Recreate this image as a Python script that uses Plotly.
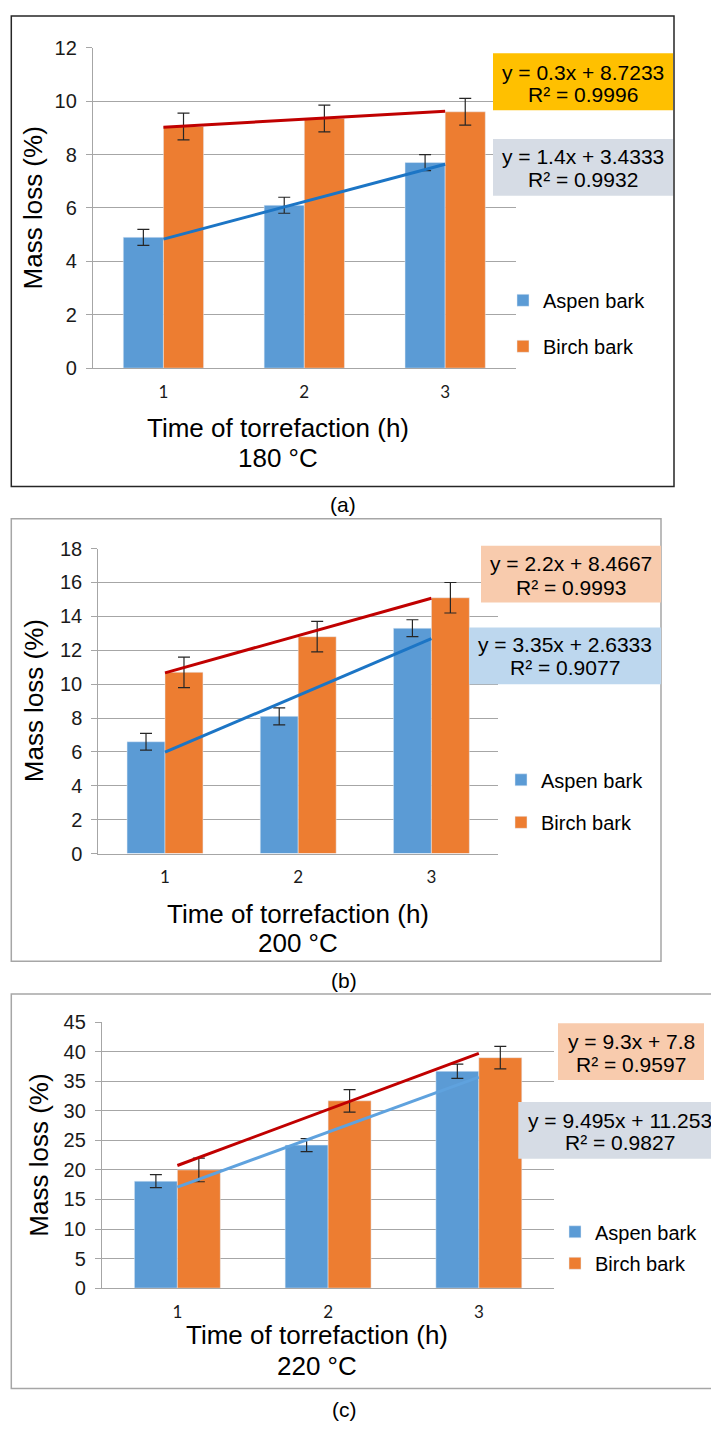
import plotly.graph_objects as go

W, H = 711, 1433

# ---------------- data ----------------
categories = [1, 2, 3]
tick_text = ["1", "2", "3"]
series_names = ["Aspen bark", "Birch bark"]

aspen_180 = [4.9, 6.1, 7.7]
aspen_180_err = [0.3, 0.3, 0.3]
birch_180 = [9.05, 9.35, 9.6]
birch_180_err = [0.5, 0.5, 0.5]

aspen_200 = [6.6, 8.1, 13.3]
aspen_200_err = [0.5, 0.5, 0.5]
birch_200 = [10.7, 12.8, 15.1]
birch_200_err = [0.9, 0.9, 0.9]

aspen_220 = [18.1, 24.2, 36.7]
aspen_220_err = [1.1, 1.1, 1.2]
birch_220 = [20.0, 31.7, 39.0]
birch_220_err = [2.0, 1.9, 1.9]

# trendline equations as printed (slope, intercept)
red_trend = [(0.3, 8.7233), (2.2, 8.4667), (9.495, 11.253)]
blue_trend = [(1.4, 3.4333), (3.35, 2.6333), (9.3, 7.8)]

eq_orange = [("y = 0.3x + 8.7233", "R² = 0.9996"),
             ("y = 2.2x + 8.4667", "R² = 0.9993"),
             ("y = 9.3x + 7.8", "R² = 0.9597")]
eq_blue = [("y = 1.4x + 3.4333", "R² = 0.9932"),
           ("y = 3.35x + 2.6333", "R² = 0.9077"),
           ("y = 9.495x + 11.253", "R² = 0.9827")]

temps = ["180 °C", "200 °C", "220 °C"]
panel_labels = ["(a)", "(b)", "(c)"]
y_max = [12, 18, 45]
y_step = [2, 2, 5]

# ---------------- styling ----------------
ASPEN = "#5B9BD5"
BIRCH = "#ED7D31"
RED = "#C00000"
BLUE_LINES = ["#1C75C5", "#1C75C5", "#5FA2DE"]
ORANGE_BOX = ["#FFC000", "#F8CBAD", "#F8CBAD"]
BLUE_BOX = ["#D6DCE5", "#BDD7EE", "#D6DCE5"]
GRID = "#A6A6A6"
FONT = "Liberation Sans, Arial, sans-serif"


def px_x(px):
    return px / W


def px_y(py):
    return 1 - py / H


# pixel geometry of each panel
plot_x = [(93.0, 515.6), (98.4, 498.0), (102.0, 554.2)]
plot_y = [(37.3, 362.7), (546.0, 855.7), (1027.0, 1297.0)]
frames = [(11.3, 5.0, 674.0, 483.0, "#262626"),
          (11.3, 515.7, 661.0, 965.0, "#A6A6A6"),
          (11.3, 998.3, 725.0, 1399.0, "#A6A6A6")]
orange_boxes = [(493, 43, 673, 100.7), (481, 543, 661, 600.7), (558, 1028, 704, 1085.7)]
orange_text = [(583, 62, 85), (570.5, 561.5, 585), (631, 1046.5, 1069.5)]
blue_boxes = [(493, 130, 673, 187.7), (469, 626, 661, 683.7), (518.3, 1108, 722, 1165.7)]
blue_text = [(583, 147.5, 171), (564.7, 643.5, 667), (620, 1126.5, 1149.5)]
ytitle_pos = [(32.5, 200), (34, 701), (39.5, 1162)]
xtitle_pos = [(277.5, 424, 454), (298.4, 916.7, 946.7), (317, 1345, 1375.7)]
label_pos = [(343, 501), (344, 985), (344, 1420)]
legend_pos = [(503, 274), (501, 761), (555, 1220)]
legend_gap = [17, 13.5, 2.5]

aspen_all = [(aspen_180, aspen_180_err), (aspen_200, aspen_200_err), (aspen_220, aspen_220_err)]
birch_all = [(birch_180, birch_180_err), (birch_200, birch_200_err), (birch_220, birch_220_err)]

fig = go.Figure()
shapes = []
annotations = []
layout = {}

for i in range(3):
    sfx = "" if i == 0 else str(i + 1)
    xa, ya = "x" + sfx, "y" + sfx
    leg = "legend" + sfx

    (av, ae), (bv, be) = aspen_all[i], birch_all[i]
    fig.add_trace(go.Bar(
        x=categories, y=av, name=series_names[0], marker_color=ASPEN,
        error_y=dict(type="data", array=ae, visible=True, color="#262626", thickness=1.2, width=6),
        xaxis=xa, yaxis=ya, legend=leg, legendgroup="a" + sfx, offsetgroup="a",
    ))
    fig.add_trace(go.Bar(
        x=categories, y=bv, name=series_names[1], marker_color=BIRCH,
        error_y=dict(type="data", array=be, visible=True, color="#262626", thickness=1.2, width=6),
        xaxis=xa, yaxis=ya, legend=leg, legendgroup="b" + sfx, offsetgroup="b",
    ))
    # trendlines (drawn from printed equations, first to last category)
    xe = [categories[0], categories[-1]]
    m, c = red_trend[i]
    fig.add_trace(go.Scatter(x=xe, y=[m * v + c for v in xe], mode="lines",
                             line=dict(color=RED, width=3), showlegend=False,
                             hoverinfo="skip", xaxis=xa, yaxis=ya))
    m, c = blue_trend[i]
    fig.add_trace(go.Scatter(x=xe, y=[m * v + c for v in xe], mode="lines",
                             line=dict(color=BLUE_LINES[i], width=3), showlegend=False,
                             hoverinfo="skip", xaxis=xa, yaxis=ya))

    x0, x1 = plot_x[i]
    yt, yb = plot_y[i]
    layout["xaxis" + sfx] = dict(
        domain=[px_x(x0), px_x(x1)], anchor=ya, range=[0.5, 3.5],
        tickvals=categories, ticktext=tick_text, showgrid=False, zeroline=False,
        showline=True, linecolor=GRID, linewidth=1.3, ticks="",
        tickfont=dict(family="Lato, Carlito, sans-serif", size=17, color="#1a1a1a"),
        ticklabelstandoff=8, fixedrange=True,
    )
    layout["yaxis" + sfx] = dict(
        domain=[px_y(yb), px_y(yt)], anchor=xa, range=[0, y_max[i]], dtick=y_step[i],
        tick0=0, showgrid=True, gridcolor=GRID, gridwidth=1.3, zeroline=False,
        showline=True, linecolor=GRID, linewidth=1.3, ticks="outside", ticklen=6,
        tickcolor=GRID, tickwidth=1.3, ticklabelstandoff=5,
        tickfont=dict(family=FONT, size=20, color="#1a1a1a"), fixedrange=True,
    )
    lx, ly = legend_pos[i]
    layout[leg] = dict(
        x=px_x(lx), y=px_y(ly), xanchor="left", yanchor="top",
        font=dict(family=FONT, size=20, color="#000000"), bgcolor="rgba(0,0,0,0)",
        itemwidth=30, tracegroupgap=legend_gap[i], traceorder="grouped",
    )

    fx0, fy0, fx1, fy1, fcol = frames[i]
    shapes.append(dict(type="rect", xref="paper", yref="paper",
                       x0=px_x(fx0), x1=px_x(fx1), y0=px_y(fy1), y1=px_y(fy0),
                       line=dict(color=fcol, width=1.5), fillcolor="rgba(0,0,0,0)", layer="below"))
    for box, col in ((orange_boxes[i], ORANGE_BOX[i]), (blue_boxes[i], BLUE_BOX[i])):
        bx0, by0, bx1, by1 = box
        shapes.append(dict(type="rect", xref="paper", yref="paper",
                           x0=px_x(bx0), x1=px_x(bx1), y0=px_y(by1), y1=px_y(by0),
                           line=dict(width=0), fillcolor=col, layer="above"))
    for (tx, ty1, ty2), (l1, l2) in ((orange_text[i], eq_orange[i]), (blue_text[i], eq_blue[i])):
        for ty, txt in ((ty1, l1), (ty2, l2)):
            annotations.append(dict(x=px_x(tx), y=px_y(ty), xref="paper", yref="paper",
                                    text=txt, showarrow=False, xanchor="center", yanchor="middle",
                                    font=dict(family=FONT, size=21, color="#000000")))
    tx, ty = ytitle_pos[i]
    annotations.append(dict(x=px_x(tx), y=px_y(ty), xref="paper", yref="paper",
                            text="Mass loss (%)", textangle=-90, showarrow=False,
                            xanchor="center", yanchor="middle",
                            font=dict(family=FONT, size=26, color="#000000")))
    tx, ty1, ty2 = xtitle_pos[i]
    annotations.append(dict(x=px_x(tx), y=px_y(ty1), xref="paper", yref="paper",
                            text="Time of torrefaction (h)", showarrow=False,
                            xanchor="center", yanchor="middle",
                            font=dict(family=FONT, size=26, color="#000000")))
    annotations.append(dict(x=px_x(tx), y=px_y(ty2), xref="paper", yref="paper",
                            text=temps[i], showarrow=False,
                            xanchor="center", yanchor="middle",
                            font=dict(family=FONT, size=26, color="#000000")))
    tx, ty = label_pos[i]
    annotations.append(dict(x=px_x(tx), y=px_y(ty), xref="paper", yref="paper",
                            text=panel_labels[i], showarrow=False,
                            xanchor="center", yanchor="middle",
                            font=dict(family=FONT, size=21, color="#000000")))

fig.update_layout(
    width=W, height=H, margin=dict(l=0, r=0, t=0, b=0),
    paper_bgcolor="white", plot_bgcolor="white",
    barmode="group", bargap=0.43, bargroupgap=0,
    shapes=shapes, annotations=annotations, **layout,
)

fig.write_html("out.html", include_plotlyjs=True, config={"displayModeBar": False},
               post_script="document.body.style.margin='0px';document.body.style.overflow='hidden';")
